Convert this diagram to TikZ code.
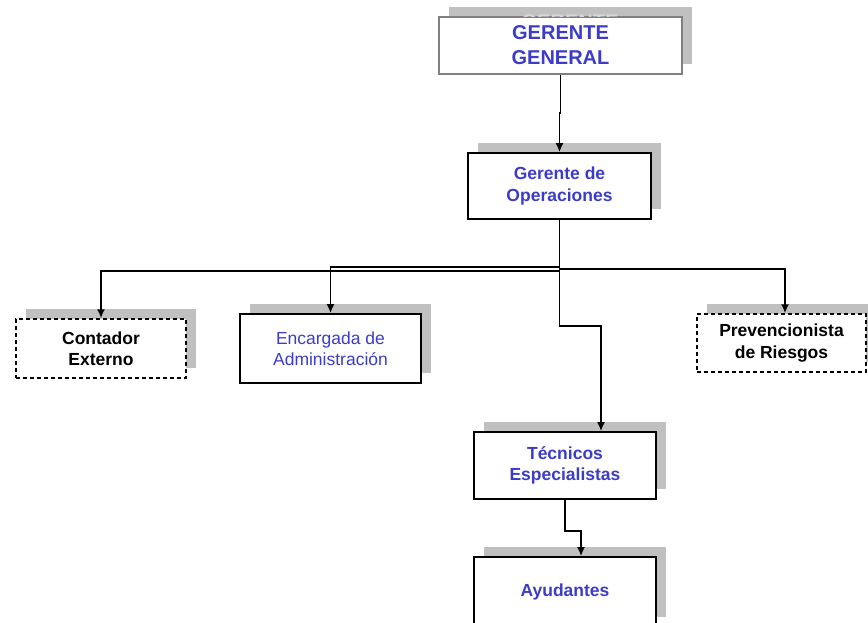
\documentclass[tikz,border=0pt]{standalone}
\usepackage{fontspec}
\setmainfont{Liberation Sans}
\usetikzlibrary{positioning,arrows.meta,shadows}
\definecolor{orgblue}{RGB}{60,60,200}
\definecolor{shadowgray}{RGB}{192,192,192}
\definecolor{ghostgray}{RGB}{214,214,214}
\definecolor{framegray}{RGB}{128,128,128}

\begin{document}
\begin{tikzpicture}[x=1pt, y=-1pt,
  box/.style={rectangle, draw=black, line width=1.8pt, fill=white, align=center, inner sep=0pt,
    drop shadow={shadow xshift=10pt, shadow yshift=10pt, fill=shadowgray, opacity=1}},
  dashbox/.style={box, line width=1.5pt, dash pattern=on 4pt off 3pt},
  bigtext/.style={font=\fontsize{20}{25}\selectfont\bfseries, text=orgblue},
  bluetext/.style={font=\fontsize{17.5}{21.5}\selectfont\bfseries, text=orgblue},
  plaintext/.style={font=\fontsize{17.5}{21.5}\selectfont, text=orgblue},
  blacktext/.style={font=\fontsize{17.5}{21.5}\selectfont\bfseries, text=black},
  conn/.style={draw=black, line width=1.6pt, -{Latex[length=9pt,width=8pt]}}]
  \useasboundingbox (0,0) rectangle (868,623);

  \node[box, bigtext, draw=framegray, minimum width=243pt, minimum height=57pt] (gg) at (560.5,45.5) {GERENTE\\GENERAL};
  \node[box, bluetext, minimum width=183pt, minimum height=66pt] (go) at (559.5,186) {Gerente de\\Operaciones};
  \node[dashbox, blacktext, minimum width=170pt, minimum height=59pt] (ce) at (101,348.5) {Contador\\Externo};
  \node[box, plaintext, minimum width=181pt, minimum height=69pt] (ea) at (330.5,348.5) {Encargada de\\Administración};
  \node[dashbox, blacktext, minimum width=169pt, minimum height=58pt] (pr) at (781.5,343) {Prevencionista\\de Riesgos};
  \node[box, bluetext, minimum width=182pt, minimum height=67pt] (te) at (565,465.5) {Técnicos\\Especialistas};
  \node[box, bluetext, minimum width=182pt, minimum height=70pt] (ay) at (565,592) {Ayudantes};

  % faint text left in the shadow of the top box
  \begin{scope}
    \clip (gg.north west) rectangle ([xshift=10pt, yshift=10pt]gg.north east);
    \node[bigtext, text=ghostgray] (ggghost) at (570,22) {GERENTE};
  \end{scope}

  \draw[conn] (gg.south) -- ++(0,38) -| (go.north);
  \draw[conn] (go.south) -- ++(0,51) -| (ce.north);
  \draw[conn] (go.south) -- ++(0,47) -| (ea.north);
  \draw[conn] (go.south) -- ++(0,49) -| ([xshift=3.5pt]pr.north);
  \draw[conn] (go.south) -- ++(0,106) -| ([xshift=36pt]te.north);
  \draw[conn] (te.south) -- ++(0,31) -| ([xshift=16pt]ay.north);
\end{tikzpicture}
\end{document}
